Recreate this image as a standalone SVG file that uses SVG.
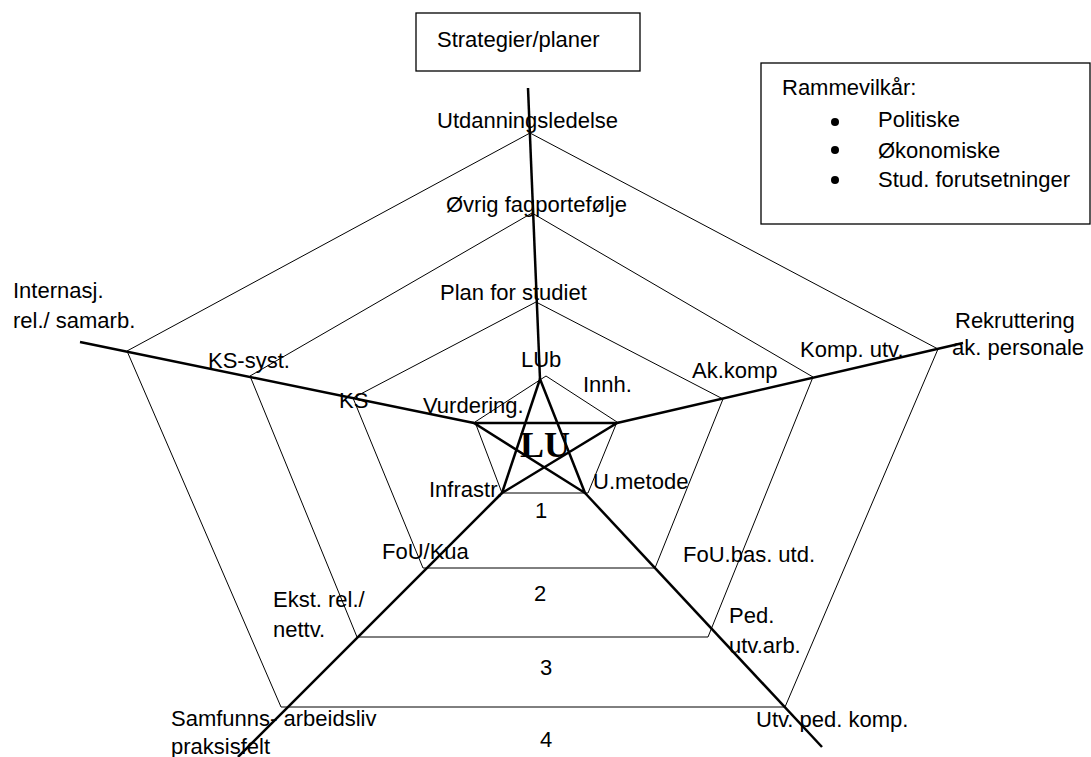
<svg xmlns="http://www.w3.org/2000/svg" width="1091" height="757" viewBox="0 0 1091 757">
<style>
  text { font-family: "Liberation Sans", Arial, sans-serif; font-size: 22px; fill: #000; }
  .lu { font-family: "Liberation Serif", "Times New Roman", serif; font-size: 36px; font-weight: bold; }
  .ring { fill: none; stroke: #000; stroke-width: 1; stroke-linejoin: miter; }
  .axis { fill: none; stroke: #000; stroke-width: 2.5; stroke-linecap: butt; }
  .box { fill: #fff; stroke: #000; stroke-width: 1.3; }
</style>
<rect x="0" y="0" width="1091" height="757" fill="#fff"/>

<g id="rings">
  <polygon class="ring" points="530,133 938,349 785,707 281,707 127,351"/>
  <polygon class="ring" points="532,213 813,377 708,637 357,637 250,376"/>
  <polygon class="ring" points="536,302 723,399 655,568 423,568 353,398"/>
  <polygon class="ring" points="546,376 617,422 588,493 502,493 475,422"/>
</g>

<g id="connectors">
  <line class="axis" x1="528" y1="88" x2="540" y2="379"/>
  <line class="axis" x1="80" y1="342" x2="474" y2="423"/>
  <line class="axis" x1="617" y1="423" x2="963" y2="343"/>
  <line class="axis" x1="502" y1="493" x2="238" y2="757"/>
  <line class="axis" x1="585" y1="493" x2="822" y2="747"/>
  <polygon class="axis" points="540,379 585,493 474,423 617,423 502,493"/>
</g>

<g id="node-strategier">
  <rect class="box" x="416" y="13" width="224" height="58"/>
  <text x="437" y="47">Strategier/planer</text>
</g>

<g id="node-rammevilkar">
  <rect class="box" x="761" y="63" width="329" height="161"/>
  <text x="782" y="95">Rammevilkår:</text>
  <circle cx="835" cy="122" r="4"/>
  <text x="878" y="127">Politiske</text>
  <circle cx="835" cy="150" r="4"/>
  <text x="878" y="158">Økonomiske</text>
  <circle cx="835" cy="180" r="4"/>
  <text x="878" y="187">Stud. forutsetninger</text>
</g>

<g id="node-lu">
  <text class="lu" x="520" y="457">LU</text>
</g>

<g id="labels-top">
  <text x="437" y="128">Utdanningsledelse</text>
  <text x="446" y="212">Øvrig fagportefølje</text>
  <text x="440" y="300">Plan for studiet</text>
  <text x="521" y="367">LUb</text>
</g>

<g id="labels-right">
  <text x="583" y="392">Innh.</text>
  <text x="692" y="378">Ak.komp</text>
  <text x="800" y="357">Komp. utv.</text>
  <text x="955" y="328">Rekruttering</text>
  <text x="952" y="355">ak. personale</text>
</g>

<g id="labels-bottom-right">
  <text x="593" y="489">U.metode</text>
  <text x="683" y="562">FoU.bas. utd.</text>
  <text x="729" y="623">Ped.</text>
  <text x="729" y="653">utv.arb.</text>
  <text x="756" y="727">Utv. ped. komp.</text>
</g>

<g id="labels-bottom-left">
  <text x="429" y="497">Infrastr.</text>
  <text x="382" y="559">FoU/Kua</text>
  <text x="273" y="607">Ekst. rel./</text>
  <text x="273" y="637">nettv.</text>
  <text x="171" y="726">Samfunns- arbeidsliv</text>
  <text x="171" y="754">praksisfelt</text>
</g>

<g id="labels-left">
  <text x="423" y="413">Vurdering.</text>
  <text x="339" y="408">KS</text>
  <text x="208" y="368">KS-syst.</text>
  <text x="13" y="298">Internasj.</text>
  <text x="13" y="328">rel./ samarb.</text>
</g>

<g id="levels">
  <text x="535" y="518">1</text>
  <text x="534" y="601">2</text>
  <text x="540" y="675">3</text>
  <text x="540" y="747">4</text>
</g>
</svg>
